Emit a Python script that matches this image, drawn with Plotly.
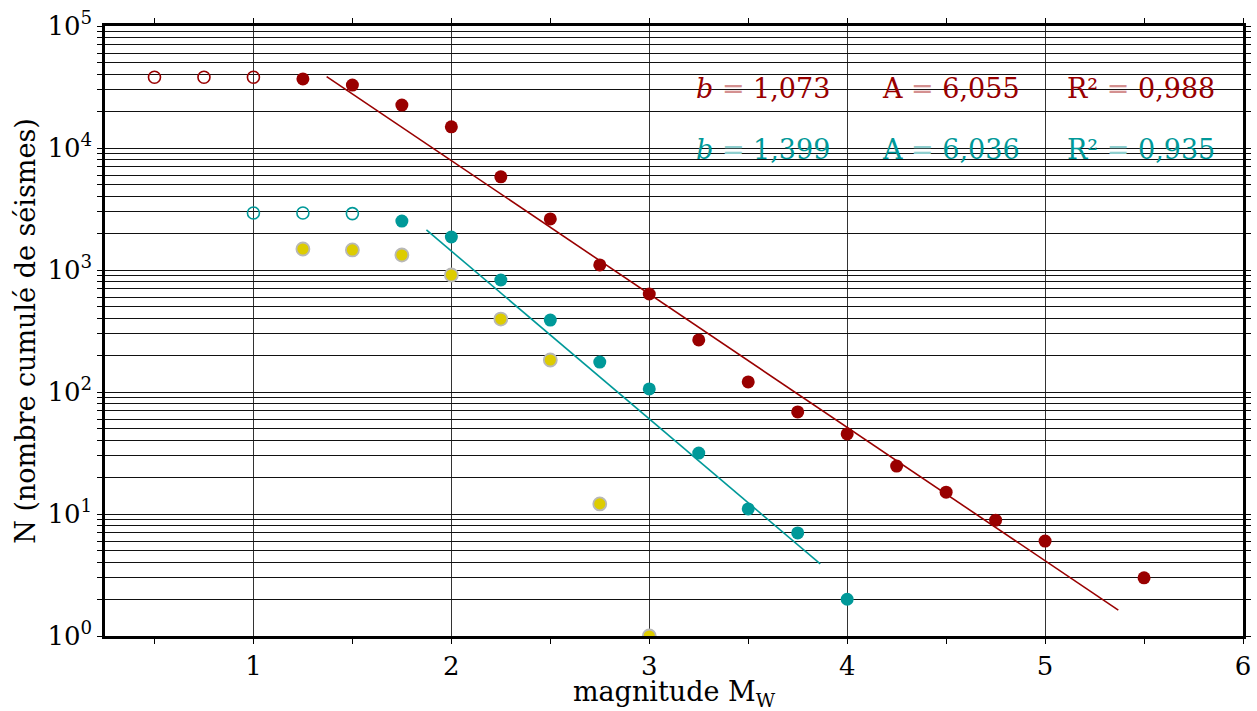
import plotly.graph_objects as go

# ---- data ----
red_open_x = [0.5, 0.75, 1.0]
red_open_y = [38000, 38000, 38000]
red_x = [1.25, 1.5, 1.75, 2.0, 2.25, 2.5, 2.75, 3.0, 3.25, 3.5, 3.75, 4.0, 4.25, 4.5, 4.75, 5.0, 5.5]
red_y = [36800, 32800, 22500, 14900, 5800, 2620, 1100, 636, 267, 121, 68.6, 45.3, 24.7, 15.1, 8.9, 6.0, 3.0]

teal_open_x = [1.0, 1.25, 1.5]
teal_open_y = [2930, 2930, 2900]
teal_x = [1.75, 2.0, 2.25, 2.5, 2.75, 3.0, 3.25, 3.5, 3.75, 4.0]
teal_y = [2520, 1865, 828, 389, 176, 106, 31.6, 11.0, 7.0, 2.0]

yellow_x = [1.25, 1.5, 1.75, 2.0, 2.25, 2.5, 2.75, 3.0]
yellow_y = [1487, 1460, 1327, 910, 396, 183, 12.1, 1.0]

red_fit_x = [1.37, 5.37]
red_fit_y = [38500, 1.63]
teal_fit_x = [1.874, 3.864]
teal_fit_y = [2130, 3.9]

red_stats = ["<i>b</i> {eq} 1,073", "A {eq} 6,055", "R² {eq} 0,988"]
teal_stats = ["<i>b</i> {eq} 1,399", "A {eq} 6,036", "R² {eq} 0,935"]
stats_x = [3.576, 4.525, 5.485]

RED = "#990000"
TEAL = "#009999"
YEL = "#ddcc00"
FONT = "DejaVu Serif"

fig = go.Figure()
fig.add_trace(go.Scatter(x=red_fit_x, y=red_fit_y, mode="lines", line=dict(color=RED, width=1.6), hoverinfo="skip"))
fig.add_trace(go.Scatter(x=teal_fit_x, y=teal_fit_y, mode="lines", line=dict(color=TEAL, width=1.6), hoverinfo="skip"))
fig.add_trace(go.Scatter(x=red_open_x, y=red_open_y, mode="markers",
                         marker=dict(symbol="circle-open", size=12, color=RED, line=dict(width=1.6, color=RED))))
fig.add_trace(go.Scatter(x=red_x, y=red_y, mode="markers", marker=dict(size=13, color=RED, line=dict(width=0))))
fig.add_trace(go.Scatter(x=teal_open_x, y=teal_open_y, mode="markers",
                         marker=dict(symbol="circle-open", size=12, color=TEAL, line=dict(width=1.6, color=TEAL))))
fig.add_trace(go.Scatter(x=teal_x, y=teal_y, mode="markers", marker=dict(size=13, color=TEAL, line=dict(width=0))))
fig.add_trace(go.Scatter(x=yellow_x, y=yellow_y, mode="markers",
                         marker=dict(size=13, color=YEL, line=dict(width=1.8, color="#b8b8b8"))))

annotations = []
for txt, xx in zip(red_stats, stats_x):
    annotations.append(dict(x=xx, y=4.484, xref="x", yref="y", showarrow=False, xanchor="center", yanchor="middle",
                            text=txt.format(eq="<span style='color:#d49090'>=</span>"),
                            font=dict(family=FONT, size=27, color=RED)))
for txt, xx in zip(teal_stats, stats_x):
    annotations.append(dict(x=xx, y=3.984, xref="x", yref="y", showarrow=False, xanchor="center", yanchor="middle",
                            text=txt.format(eq="<span style='color:#8fcfcf'>=</span>"),
                            font=dict(family=FONT, size=27, color=TEAL)))

ytv = []
ytt = []
for k in range(0, 6):
    for m in range(1, 10):
        v = m * 10 ** k
        if v > 1e5:
            break
        ytv.append(v)
        ytt.append(f"10<sup>{k}</sup>" if m == 1 else "")

fig.update_layout(
    width=1257, height=711,
    margin=dict(l=105, r=14, t=26, b=75),
    paper_bgcolor="white", plot_bgcolor="white",
    showlegend=False,
    font=dict(family=FONT, size=25, color="black"),
    annotations=annotations,
    xaxis=dict(range=[0.25, 6.0], tick0=0, dtick=1, ticks="outside", ticklen=5, tickwidth=1, tickcolor="black",
               showline=True, linewidth=2.5, linecolor="black", mirror="allticks", automargin=False,
               showgrid=True, gridcolor="#333333", gridwidth=1, zeroline=False,
               minor=dict(dtick=0.5, tick0=0, ticks="outside", ticklen=5, tickcolor="black", showgrid=False),
               tickfont=dict(family=FONT, size=26),
               title=dict(text="magnitude M<sub>W</sub>", font=dict(family=FONT, size=27), standoff=0)),
    yaxis=dict(type="log", range=[0, 5], tickmode="array", tickvals=ytv, ticktext=ytt,
               ticks="outside", ticklen=5, tickwidth=1, tickcolor="black", ticklabeloverflow="allow",
               showline=True, linewidth=2.5, linecolor="black", mirror="allticks", automargin=False,
               showgrid=True, gridcolor="#111111", gridwidth=1, zeroline=False,
               tickfont=dict(family=FONT, size=26),
               title=dict(text="N (nombre cumulé de séismes)", font=dict(family=FONT, size=27), standoff=4)),
)

fig.write_html("out.html", config={"displayModeBar": False},
               post_script="document.body.style.margin='0';document.body.style.overflow='hidden';")
